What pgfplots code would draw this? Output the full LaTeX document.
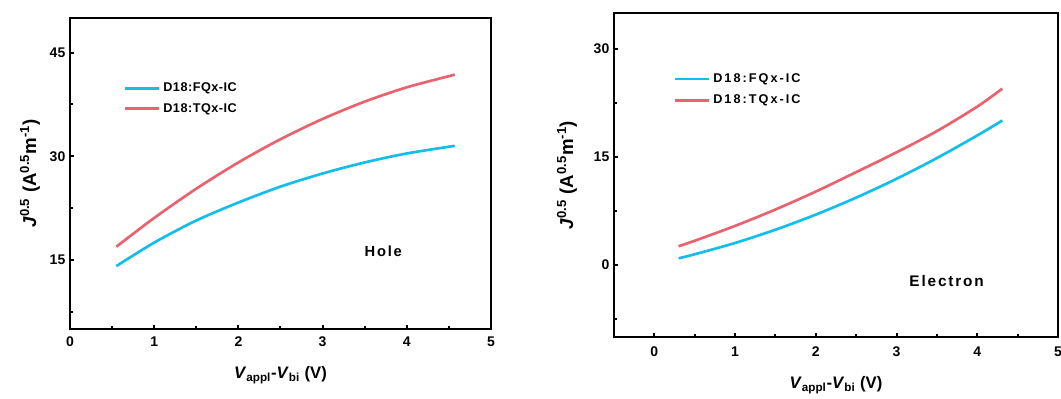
\documentclass[border=0pt]{standalone}
\usepackage{pgfplots}
\pgfplotsset{compat=1.18}
\usepackage{fontspec}
\setmainfont{Liberation Sans}
\newfontfamily\spacedA[LetterSpace=4]{Liberation Sans}
\newfontfamily\spacedB[LetterSpace=16]{Liberation Sans}
\newfontfamily\spacedC[LetterSpace=12]{Liberation Sans}
\definecolor{cy}{RGB}{20,190,235}
\definecolor{rd}{RGB}{234,98,110}
\pgfplotsset{
  myax/.style={
    scale only axis,
    axis line style={line width=2pt},
    every tick/.style={black, line width=1.5pt},
    tick align=inside,
    major tick length=3.2pt,
    minor tick length=2.2pt,
    xtick pos=bottom, ytick pos=left,
    /pgf/number format/assume math mode=true,
    ticklabel style={font=\bfseries\fontsize{10.5}{12}\selectfont},
    xticklabel style={yshift=-2pt},
    xlabel style={font=\bfseries\fontsize{12.5}{14}\selectfont},
    ylabel style={font=\bfseries\fontsize{14}{16}\selectfont},
    legend style={draw=none, fill=none, inner sep=0pt, legend cell align=left, anchor=north west},
    legend image code/.code={\draw[#1, line width=2pt] (0pt,0pt) -- (26pt,0pt);},
    every axis plot/.append style={line width=2pt, smooth},
    xlabel={\textit{V}\textsubscript{appl}-\textit{V}\textsubscript{bi} (V)},
    ylabel={\textit{J}\textsuperscript{0.5} (A\textsuperscript{0.5}m\textsuperscript{-1})},
  }
}
\begin{document}
\begin{tikzpicture}
\useasboundingbox (0,0) rectangle (795.75pt,299.25pt);
\begin{axis}[myax,
  at={(52.5pt,52.5pt)}, anchor=south west,
  width=315.75pt, height=233.25pt,
  xmin=0, xmax=5, ymin=5, ymax=50,
  xtick={0,1,2,3,4,5}, minor xtick={0.5,1.5,2.5,3.5,4.5},
  ytick={15,30,45}, minor ytick={7.5,22.5,37.5},
  xlabel style={at={(axis description cs:0.5,-0.148)}, anchor=center},
  ylabel style={at={(axis description cs:-0.095,0.5)}, anchor=center},
  legend style={at={(axis description cs:0.126,0.80)}, row sep=3pt, font=\bfseries\spacedA\fontsize{9.5}{11}\selectfont},
]
\addplot[cy] coordinates {(0.55,14.1) (1,17.5) (1.5,20.7) (2,23.3) (2.5,25.6) (3,27.5) (3.5,29.1) (4,30.4) (4.57,31.5)};
\addlegendentry{D18:FQx-IC}
\addplot[rd] coordinates {(0.55,16.9) (1,21.07) (1.5,25.3) (2,29.1) (2.5,32.46) (3,35.39) (3.5,37.9) (4,39.97) (4.57,41.8)};
\addlegendentry{D18:TQx-IC}
\node[font=\bfseries\spacedC\fontsize{11}{13}\selectfont] at (axis cs:3.72,16.2) {Hole};
\end{axis}
\begin{axis}[myax,
  at={(460.5pt,46.5pt)}, anchor=south west,
  width=333pt, height=243pt,
  xmin=-0.5, xmax=5, ymin=-10, ymax=35,
  xtick={0,1,2,3,4,5}, minor xtick={-0.5,0.5,1.5,2.5,3.5,4.5},
  ytick={0,15,30}, minor ytick={-7.5,7.5,22.5},
  xticklabel style={yshift=-1.5pt},
  xlabel style={at={(axis description cs:0.5,-0.148)}, anchor=center},
  ylabel style={at={(axis description cs:-0.106,0.5)}, anchor=center},
  legend style={at={(axis description cs:0.133,0.822)}, row sep=4pt, font=\bfseries\spacedB\fontsize{9.5}{11}\selectfont},
]
\addplot[cy] coordinates {(0.3,0.93) (0.5,1.49) (1,3.06) (1.5,4.9) (2,7.0) (2.5,9.36) (3,11.97) (3.5,14.85) (4,17.99) (4.31,20.07)};
\addlegendentry{D18:FQx-IC}
\addplot[rd] coordinates {(0.3,2.6) (0.5,3.37) (1,5.43) (1.5,7.71) (2,10.2) (2.5,12.9) (3,15.65) (3.5,18.6) (4,22.0) (4.31,24.5)};
\addlegendentry{D18:TQx-IC}
\node[font=\bfseries\spacedC\fontsize{11.5}{13}\selectfont] at (axis cs:3.62,-2.2) {Electron};
\end{axis}
\end{tikzpicture}
\end{document}
